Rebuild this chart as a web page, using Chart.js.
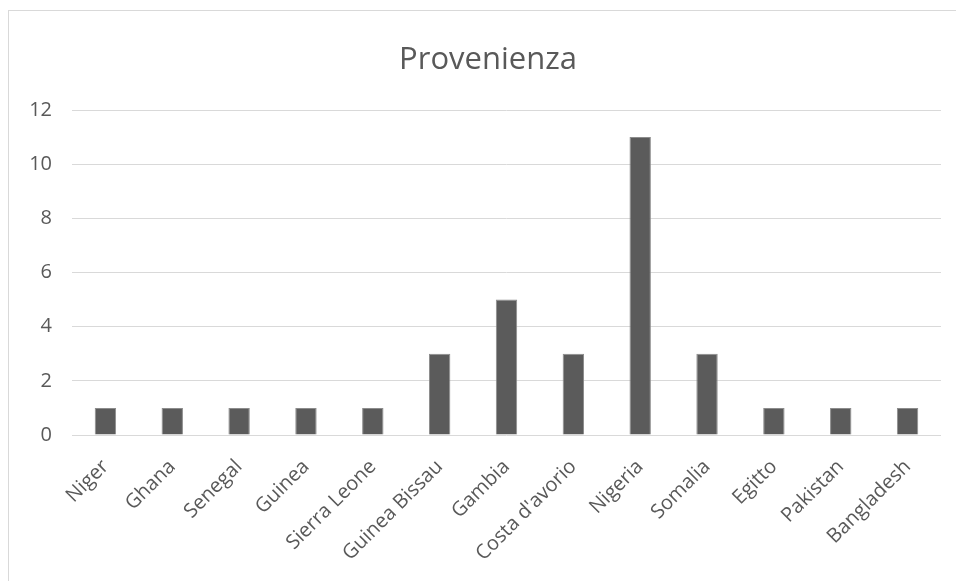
<!DOCTYPE html>
<html>
<head>
<meta charset="utf-8">
<script src="https://cdn.jsdelivr.net/npm/chart.js@4/dist/chart.umd.min.js"></script>
<style>
  html, body { margin: 0; padding: 0; background: #ffffff; width: 956px; height: 581px; overflow: hidden; }
  #frame { position: absolute; left: 8px; top: 10px; width: 1000px; height: 1000px; border: 1px solid #d9d9d9; box-sizing: border-box; }
  #wrap { position: absolute; left: 0; top: 0; width: 956px; height: 581px; }
  #title { position: absolute; left: 8px; width: 960px; top: 39px; height: 37px; line-height: 37px; text-align: center;
           font-family: 'Open Sans', 'Noto Sans', sans-serif; font-size: 31px; color: #595959; white-space: nowrap; }
</style>
</head>
<body>
<div id="frame"></div>
<div id="wrap"><canvas id="c" width="956" height="581"></canvas></div>
<div id="title"></div>
<script>
const titleText = "Provenienza";
const categories = ["Niger", "Ghana", "Senegal", "Guinea", "Sierra Leone", "Guinea Bissau", "Gambia", "Costa d'avorio", "Nigeria", "Somalia", "Egitto", "Pakistan", "Bangladesh"];
const values = [1, 1, 1, 1, 1, 3, 5, 3, 11, 3, 1, 1, 1];
const yTicks = [0, 2, 4, 6, 8, 10, 12];

const textColor = "#595959";
const fontFamily = "'Open Sans', 'Noto Sans', sans-serif";

document.getElementById("title").textContent = titleText;

new Chart(document.getElementById("c"), {
  type: "bar",
  data: {
    labels: categories,
    datasets: [{
      data: values,
      backgroundColor: "#5b5b5b",
      borderColor: "#8c8c8c",
      borderWidth: 1,
      barPercentage: 0.32,
      categoryPercentage: 1.0
    }]
  },
  options: {
    responsive: false,
    animation: false,
    devicePixelRatio: 1,
    layout: { padding: { left: 0, right: 15, top: 110, bottom: 0 } },
    plugins: {
      legend: { display: false },
      tooltip: { enabled: false },
      title: { display: false }
    },
    scales: {
      x: {
        grid: { display: false },
        border: { display: false },
        ticks: {
          color: textColor,
          font: { family: fontFamily, size: 20 },
          minRotation: 45,
          maxRotation: 45,
          autoSkip: false,
          padding: 12
        },
        afterFit: (s) => { s.height = 146; }
      },
      y: {
        min: 0,
        max: 12,
        afterBuildTicks: (s) => { s.ticks = yTicks.map(v => ({ value: v })); },
        grid: { color: "#d9d9d9", lineWidth: 1, drawTicks: false },
        border: { display: false },
        ticks: {
          color: textColor,
          font: { family: fontFamily, size: 20 },
          padding: 20
        },
        afterFit: (s) => { s.width = 72; }
      }
    }
  }
});
</script>
</body>
</html>
